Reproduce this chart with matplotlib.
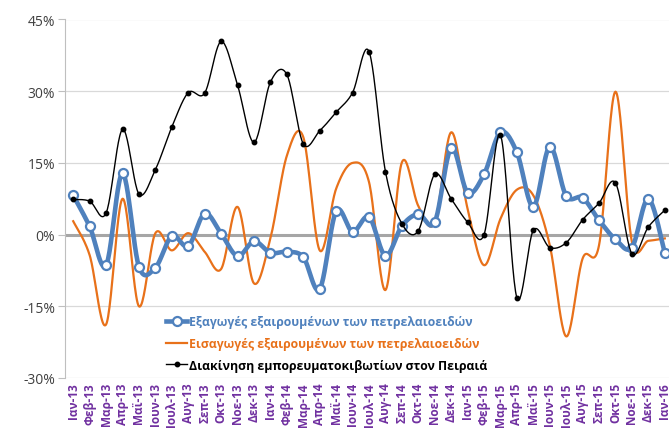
import matplotlib
matplotlib.use('Agg')
import matplotlib.pyplot as plt
import numpy as np

# months Jan-13 .. Jan-16
months = ['Ιαν', 'Φεβ', 'Μαρ', 'Απρ', 'Μαϊ', 'Ιουν', 'Ιουλ', 'Αυγ', 'Σεπ', 'Οκτ', 'Νοε', 'Δεκ']
labels = [m + '-' + y for y in ['13', '14', '15'] for m in months] + ['Ιαν-16']

exports = [8.2, 1.7, -6.4, 12.8, -6.7, -6.9, -0.3, -2.4, 4.4, 0.2, -4.5, -1.4,
           -3.8, -3.6, -4.7, -11.4, 4.9, 0.6, 3.7, -4.4, 1.8, 4.3, 2.6, 18.1,
           8.8, 12.6, 21.4, 17.2, 5.8, 18.4, 8.1, 7.7, 3.0, -1.0, -2.7, 7.5, -3.8]
imports = [2.8, -4.3, -18.8, 7.5, -15.0, 0.3, -3.3, 0.3, -3.6, -7.2, 5.8, -10.2,
           -0.8, 16.5, 20.4, -3.3, 9.6, 15.0, 11.0, -11.6, 15.1, 6.0, 2.5, 21.4,
           5.4, -6.4, 3.3, 9.4, 8.2, -2.2, -21.3, -5.0, -2.2, 29.9, -1.5, -1.3, -0.8]
containers = [7.35, 7.0, 4.5, 22.0, 8.5, 13.6, 22.5, 29.7, 29.6, 40.4, 31.25, 19.3,
              31.9, 33.5, 19.0, 21.7, 25.6, 29.7, 38.3, 13.2, 2.3, 0.8, 12.6, 7.5,
              2.6, 0.0, 20.8, -13.2, 0.9, -2.7, -1.7, 3.1, 6.6, 10.8, -4.0, 1.6, 5.1]

names = ['Εξαγωγές εξαιρουμένων των πετρελαιοειδών',
         'Εισαγωγές εξαιρουμένων των πετρελαιοειδών',
         'Διακίνηση εμπορευματοκιβωτίων στον Πειραιά']

BLUE = '#4F81BD'
ORANGE = '#E8711A'
PURPLE = '#7030A0'

plt.rcParams['font.family'] = ['Open Sans', 'DejaVu Sans']


def smooth(x, y, n=24):
    # excel-like smoothed line (catmull-rom as bezier)
    x = np.asarray(x, float)
    y = np.asarray(y, float)
    px = np.concatenate([[x[0]], x, [x[-1]]])
    py = np.concatenate([[y[0]], y, [y[-1]]])
    xs, ys = [], []
    t = np.linspace(0, 1, n, endpoint=False)
    for i in range(1, len(px) - 2):
        for p, out in ((px, xs), (py, ys)):
            p0, p1, p2, p3 = p[i - 1], p[i], p[i + 1], p[i + 2]
            c1 = p1 + (p2 - p0) / 6
            c2 = p2 - (p3 - p1) / 6
            out.extend((1 - t) ** 3 * p1 + 3 * (1 - t) ** 2 * t * c1 + 3 * (1 - t) * t ** 2 * c2 + t ** 3 * p2)
    xs.append(x[-1])
    ys.append(y[-1])
    return np.array(xs), np.array(ys)


x = np.arange(len(labels))

fig = plt.figure(figsize=(6.69, 4.31), dpi=100)
ax = fig.add_axes([65 / 669, 52 / 431, 608 / 669, 358.5 / 431])

for v in [-30, -15, 15, 30, 45]:
    ax.axhline(v, color='#D9D9D9', lw=0.9, zorder=0)
ax.axhline(0, color='#A6A6A6', lw=2.2, zorder=1)

sx, sy = smooth(x, exports)
ax.plot(sx, sy, color=BLUE, lw=3.3, zorder=3, solid_capstyle='round')
ax.plot(x, exports, 'o', ms=6.5, mfc='white', mec=BLUE, mew=1.6, zorder=4)

sx, sy = smooth(x, imports)
ax.plot(sx, sy, color=ORANGE, lw=1.6, zorder=2)

sx, sy = smooth(x, containers)
ax.plot(sx, sy, color='black', lw=1.0, zorder=5)
ax.plot(x, containers, 'o', ms=3.2, color='black', zorder=6)

ax.set_xlim(-0.5, len(labels) - 0.5)
ax.set_ylim(-30, 45)
ax.set_yticks([-30, -15, 0, 15, 30, 45])
ax.set_yticklabels(['-30%', '-15%', '0%', '15%', '30%', '45%'], fontsize=10, color='#404040')
ax.set_xticks(x)
ax.set_xticklabels(labels, rotation=90, fontsize=8.5, color=PURPLE, fontweight='bold')
ax.tick_params(axis='x', length=0, pad=3)
ax.tick_params(axis='y', length=5, color='#BFBFBF', pad=2)
for s in ['top', 'right', 'bottom']:
    ax.spines[s].set_visible(False)
ax.spines['left'].set_color('#BFBFBF')

h1, = ax.plot([], [], color=BLUE, lw=3.3, marker='o', ms=6.5, mfc='white', mec=BLUE, mew=1.6)
h2, = ax.plot([], [], color=ORANGE, lw=1.6)
h3, = ax.plot([], [], color='black', lw=1.0, marker='o', ms=3.2)
leg = fig.legend([h1, h2, h3], names, loc='upper left', bbox_to_anchor=(166 / 669, (431 - 316) / 431),
                 frameon=False, handlelength=1.75, handletextpad=0.15,
                 labelspacing=0.72, borderpad=0, borderaxespad=0,
                 prop={'weight': 'bold', 'size': 8.8})
for t, c in zip(leg.get_texts(), [BLUE, ORANGE, 'black']):
    t.set_color(c)

fig.savefig('out.png', dpi=100)
